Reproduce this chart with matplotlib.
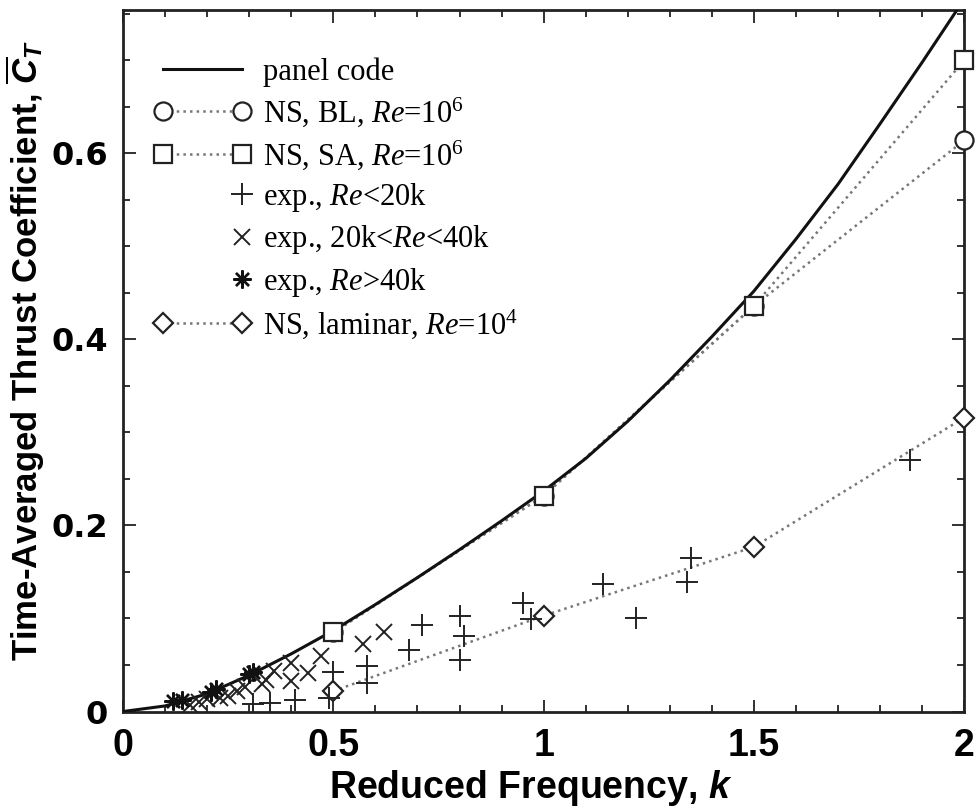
import numpy as np
import matplotlib
matplotlib.use('Agg')
import matplotlib.pyplot as plt
from matplotlib.lines import Line2D
from matplotlib.legend_handler import HandlerLine2D
from matplotlib.ticker import MultipleLocator, FuncFormatter

plt.rcParams['mathtext.fontset'] = 'custom'
plt.rcParams['mathtext.rm'] = 'Liberation Serif'
plt.rcParams['mathtext.it'] = 'Liberation Serif:italic'
plt.rcParams['mathtext.bf'] = 'Liberation Sans:bold:italic'

# panel code (solid curve)
k_panel = [0, 0.1, 0.2, 0.3, 0.4, 0.5, 0.6, 0.7, 0.8, 0.9, 1.0,
           1.1, 1.2, 1.3, 1.4, 1.5, 1.6, 1.7, 1.8, 1.9, 2.0]
ct_panel = [0, 0.006, 0.019, 0.039, 0.062, 0.087, 0.115, 0.144, 0.174, 0.205, 0.237,
            0.272, 0.312, 0.356, 0.403, 0.452, 0.508, 0.567, 0.632, 0.698, 0.766]

# NS results
k_ns = [0.5, 1.0, 1.5, 2.0]
ct_bl = [0.085, 0.232, 0.436, 0.614]
ct_sa = [0.085, 0.232, 0.436, 0.700]
ct_lam = [0.022, 0.103, 0.177, 0.316]

# experiments, Re<20k
k_exp1 = [0.31, 0.35, 0.41, 0.49, 0.50, 0.58, 0.58, 0.68, 0.71, 0.80, 0.81, 0.80,
          0.95, 0.97, 1.14, 1.22, 1.34, 1.35, 1.87]
ct_exp1 = [0.008, 0.009, 0.012, 0.014, 0.042, 0.049, 0.031, 0.066, 0.093, 0.103, 0.081, 0.055,
           0.117, 0.099, 0.137, 0.100, 0.139, 0.165, 0.270]
# experiments, 20k<Re<40k
k_exp2 = [0.16, 0.18, 0.20, 0.23, 0.25, 0.27, 0.29, 0.33, 0.34, 0.36, 0.40, 0.40,
          0.44, 0.47, 0.57, 0.62]
ct_exp2 = [0.007, 0.010, 0.013, 0.015, 0.017, 0.022, 0.026, 0.030, 0.034, 0.044, 0.052, 0.033,
           0.041, 0.060, 0.073, 0.086]
# experiments, Re>40k
k_exp3 = [0.12, 0.14, 0.21, 0.22, 0.30, 0.31]
ct_exp3 = [0.011, 0.012, 0.021, 0.024, 0.040, 0.043]

dot_c = '#777777'

fig = plt.figure(figsize=(9.77, 8.09), dpi=100)
ax = fig.add_axes([0.1259, 0.1205, 0.8611, 0.867])

ax.plot(k_panel, ct_panel, '-', color='#111111', lw=2.2, zorder=3)
ax.plot(k_ns, ct_bl, ':', color=dot_c, lw=1.8, zorder=2)
ax.plot(k_ns, ct_sa, ':', color=dot_c, lw=1.8, zorder=2)
ax.plot(k_ns, ct_lam, ':', color=dot_c, lw=1.8, zorder=2)

mk = dict(ls='none', mec='#222222', mfc='white', mew=1.6, clip_on=False, zorder=4)
ax.plot(k_ns, ct_bl, marker='o', ms=13, **mk)
ax.plot(k_ns, ct_sa, marker='s', ms=13, **mk)
ax.plot(k_ns, ct_lam, marker='D', ms=10.5, **mk)

ax.plot(k_exp1, ct_exp1, ls='none', marker='+', ms=16, mew=1.4, color='#222222', zorder=4)
ax.plot(k_exp2, ct_exp2, ls='none', marker='x', ms=11, mew=1.4, color='#222222', zorder=4)
ax.plot(k_exp3, ct_exp3, ls='none', marker=(8, 2, 0), ms=13, mew=1.7, color='#111111', zorder=4)

ax.set_xlim(0, 2)
ax.set_ylim(0, 0.754)
ax.xaxis.set_major_locator(MultipleLocator(0.5))
ax.xaxis.set_minor_locator(MultipleLocator(0.1))
ax.yaxis.set_major_locator(MultipleLocator(0.2))
ax.yaxis.set_minor_locator(MultipleLocator(0.05))
fmt = FuncFormatter(lambda v, p: '%g' % round(v, 2))
ax.xaxis.set_major_formatter(fmt)
ax.yaxis.set_major_formatter(fmt)
ax.tick_params(which='both', direction='in', top=True, right=True, width=1.3, color='#222222')
ax.tick_params(which='major', length=9)
ax.tick_params(which='minor', length=5)
ax.tick_params(axis='y', pad=11)
ax.tick_params(axis='x', pad=12)
for s in ax.spines.values():
    s.set_linewidth(2)
    s.set_color('#222222')

for t in ax.get_yticklabels():
    t.set_fontfamily('DejaVu Sans')
    t.set_fontweight('bold')
    t.set_fontsize(23)
for t in ax.get_xticklabels():
    t.set_fontfamily('Liberation Sans')
    t.set_fontweight('bold')
    t.set_fontsize(27)

ax.set_xlabel(r'Reduced Frequency, $\mathbf{k}$', fontfamily='Liberation Sans',
              fontweight='bold', fontsize=27)
ax.xaxis.set_label_coords(0.485, -0.08)
ax.set_ylabel(r'Time-Averaged Thrust Coefficient, $\overline{\mathbf{C}}_{\mathbf{T}}$',
              fontfamily='Liberation Sans', fontweight='bold', fontsize=25)
ax.yaxis.set_label_coords(-0.09, 0.515)


class RightMarker(HandlerLine2D):
    def create_artists(self, *args, **kwargs):
        arts = super().create_artists(*args, **kwargs)
        for a in arts:
            a.set_markevery([len(a.get_xdata()) - 1])
        return arts


h_panel = Line2D([], [], color='#111111', lw=2.2)
h_bl = Line2D([], [], ls=':', color=dot_c, lw=1.8, marker='o', ms=13, mec='#222222', mfc='white', mew=1.6)
h_sa = Line2D([], [], ls=':', color=dot_c, lw=1.8, marker='s', ms=13, mec='#222222', mfc='white', mew=1.6)
h_e1 = Line2D([], [], ls='none', marker='+', ms=16, mew=1.4, color='#222222')
h_e2 = Line2D([], [], ls='none', marker='x', ms=11, mew=1.4, color='#222222')
h_e3 = Line2D([], [], ls='none', marker=(8, 2, 0), ms=13, mew=1.7, color='#111111')
h_lam = Line2D([], [], ls=':', color=dot_c, lw=1.8, marker='D', ms=10.5, mec='#222222', mfc='white', mew=1.6)

labels = ['panel code',
          r'NS, BL, $Re$=10$^6$',
          r'NS, SA, $Re$=10$^6$',
          r'exp., $Re$<20k',
          r'exp., 20k<$Re$<40k',
          r'exp., $Re$>40k',
          r'NS, laminar, $Re$=10$^4$']
leg = ax.legend([h_panel, h_bl, h_sa, h_e1, h_e2, h_e3, h_lam], labels,
                loc='upper left', bbox_to_anchor=(0.0367, 0.933), frameon=False,
                numpoints=2, handlelength=3.2, handletextpad=0.38, borderpad=0,
                borderaxespad=0, labelspacing=0.30,
                prop={'family': 'Liberation Serif', 'size': 22},
                handler_map={h_e1: RightMarker(), h_e2: RightMarker(), h_e3: RightMarker()})

fig.savefig('out.png', dpi=100)
